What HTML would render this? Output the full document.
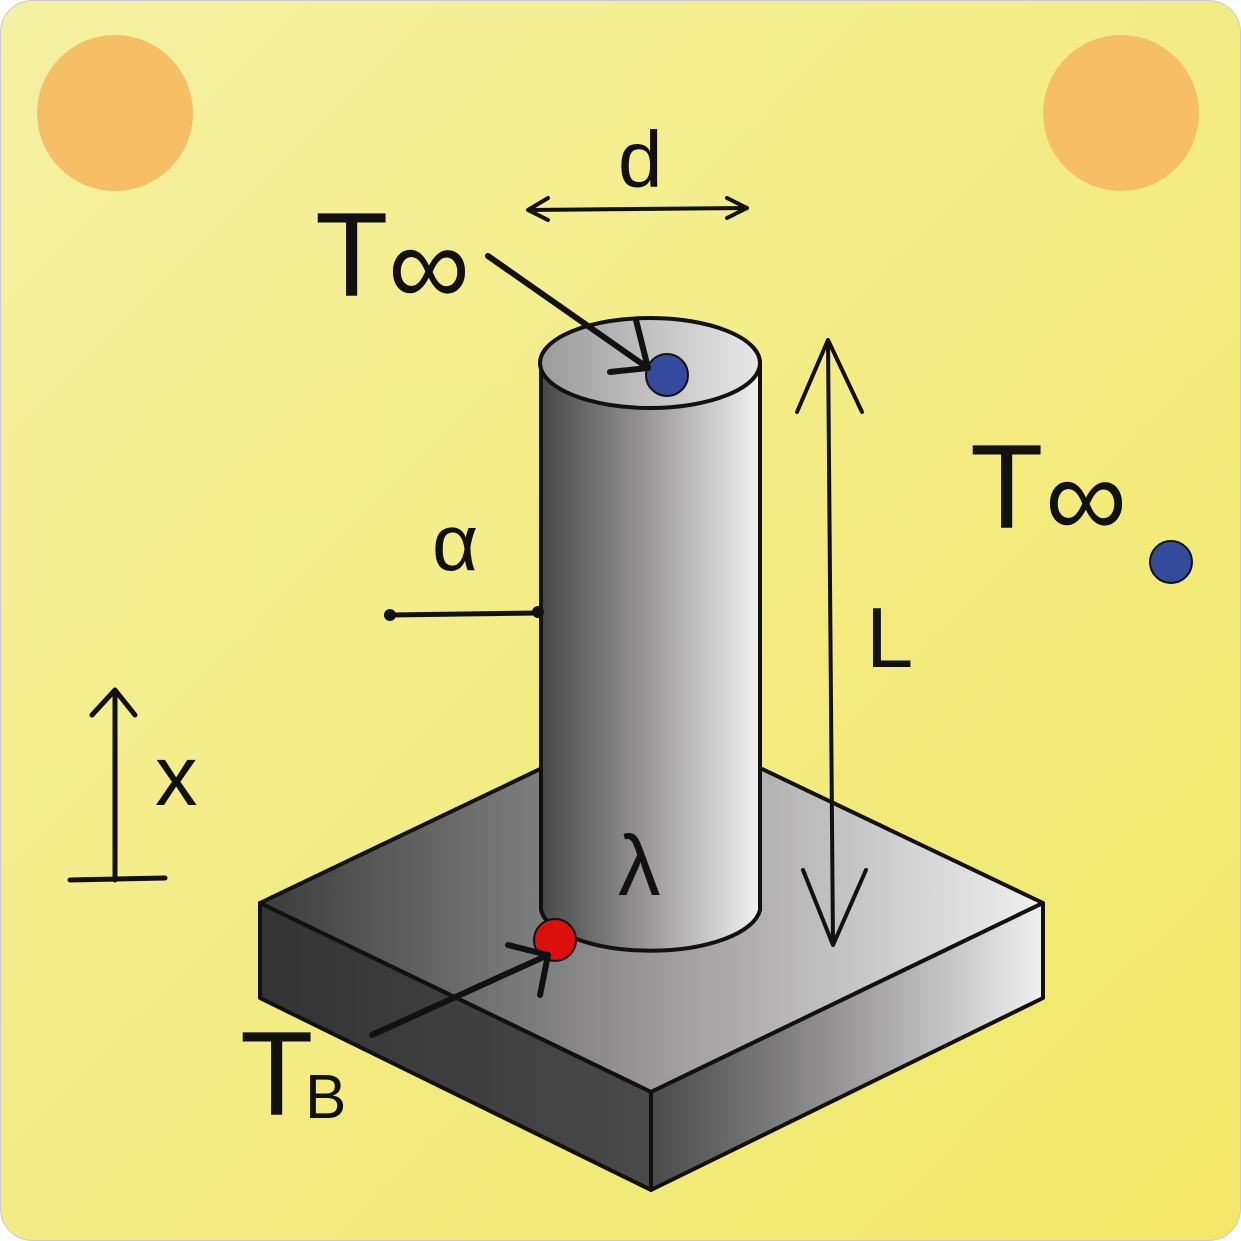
<!DOCTYPE html>
<html><head><meta charset="utf-8"><style>
html,body{margin:0;padding:0;background:#fff}
svg{display:block}
text{font-family:"Liberation Sans",sans-serif;fill:#111}
</style></head><body>
<svg width="1241" height="1241" viewBox="0 0 1241 1241">
<defs>
<linearGradient id="bg" x1="0" y1="0" x2="1" y2="1">
<stop offset="0" stop-color="#f4f1a2"/><stop offset="1" stop-color="#f2e767"/></linearGradient>
<linearGradient id="cyl" x1="0" y1="0" x2="1" y2="0">
<stop offset="0" stop-color="#474747"/><stop offset="0.5" stop-color="#9c9a9a"/><stop offset="1" stop-color="#f2f2f2"/></linearGradient>
<linearGradient id="top" x1="0" y1="0" x2="1" y2="0">
<stop offset="0" stop-color="#3c3c3c"/><stop offset="0.55" stop-color="#a3a1a1"/><stop offset="1" stop-color="#f0f0f0"/></linearGradient>
<linearGradient id="cap" x1="0" y1="0" x2="1" y2="0">
<stop offset="0" stop-color="#9a9a9a"/><stop offset="1" stop-color="#e8e8e8"/></linearGradient>
<linearGradient id="front" x1="0" y1="0" x2="1" y2="0">
<stop offset="0" stop-color="#333"/><stop offset="1" stop-color="#4a4a4a"/></linearGradient>
<linearGradient id="right" x1="0" y1="0" x2="1" y2="0">
<stop offset="0" stop-color="#4a4a4a"/><stop offset="0.5" stop-color="#9a9898"/><stop offset="1" stop-color="#f0f0f0"/></linearGradient>
</defs>
<rect x="0.5" y="0.5" width="1240" height="1240" rx="32" fill="url(#bg)" stroke="#ccc"/>
<circle cx="115" cy="113" r="78" fill="#f6bf65"/>
<circle cx="1121" cy="113" r="78" fill="#f6bf65"/>
<g stroke="#111" stroke-width="4" stroke-linejoin="round">
<polygon points="260,903 651,716 1043,903 651,1092" fill="url(#top)"/>
<polygon points="260,903 651,1092 651,1190 260,998" fill="url(#front)"/>
<polygon points="651,1092 1043,903 1043,998 651,1190" fill="url(#right)"/>
</g>
<g stroke="#111" stroke-width="4">
<path d="M541,363 L541,910 A110,45 0 0 0 760,910 L760,363 Z" fill="url(#cyl)"/>
<ellipse cx="650" cy="363" rx="110" ry="45" fill="url(#cap)"/>
</g>
<circle cx="667" cy="375" r="21" fill="#344a9c" stroke="#111" stroke-width="2"/>
<circle cx="555" cy="940" r="21" fill="#dc0f0f" stroke="#111" stroke-width="2"/>
<circle cx="1171" cy="562" r="21" fill="#344a9c" stroke="#111" stroke-width="2"/>
<g stroke="#111" stroke-width="6" fill="none" stroke-linecap="round" stroke-linejoin="round">
<path d="M488,256 L648,368 M610,372 L648,368 L636,320"/>
<path d="M528,210 L747,208 M548,198 L528,210 L548,220 M727,198 L747,208 L727,218" stroke-width="4"/>
<path d="M828,340 L833,945 M797,412 L828,340 L862,412 M803,870 L833,945 L866,870" stroke-width="4"/>
<path d="M372,1035 L548,955 M508,945 L548,955 L540,995"/>
<path d="M115,690 L115,880 M70,880 L165,878 M92,715 L115,690 L135,715" stroke-width="5"/>
<path d="M390,615 L538,613" stroke-width="5"/>
</g>
<circle cx="390" cy="615" r="6" fill="#111"/><circle cx="538" cy="612" r="6" fill="#111"/>
<text x="315" y="296" font-size="120">T</text>
<text x="388" y="305" font-size="115">∞</text>
<text x="970" y="528" font-size="120">T</text>
<text x="1045" y="537" font-size="115">∞</text>
<text x="618" y="187" font-size="80">d</text>
<text x="866" y="667" font-size="85">L</text>
<text x="432" y="570" font-size="80">α</text>
<text x="155" y="805" font-size="85">x</text>
<text x="618" y="895" font-size="85">λ</text>
<text x="240" y="1115" font-size="120">T</text>
<text x="305" y="1118" font-size="62">B</text>
</svg>
</body></html>
